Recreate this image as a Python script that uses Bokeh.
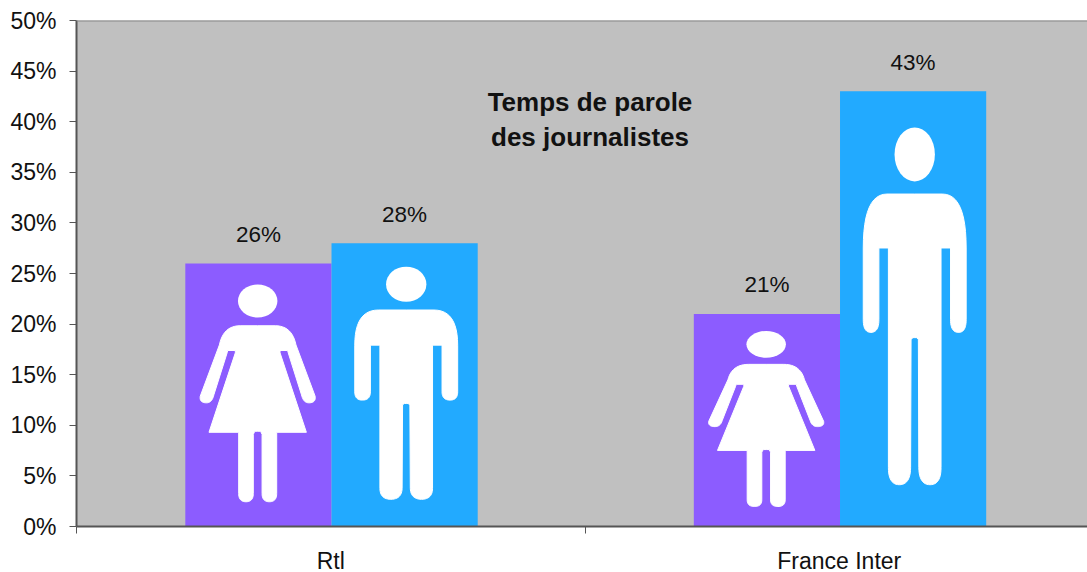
from bokeh.embed import file_html
from bokeh.resources import INLINE
from bokeh.plotting import figure
from bokeh.models import Range1d, FixedTicker, PrintfTickFormatter, Span, ColumnDataSource, Label
from bokeh.core.properties import value
import numpy as np

categories = ["Rtl", "France Inter"]
femmes = [26, 21]
hommes = [28, 43]
titre = ["Temps de parole", "des journalistes"]
y_ticks = [0, 5, 10, 15, 20, 25, 30, 35, 40, 45, 50]

FONT = "Liberation Sans"
VIOLET = "#8C5CFF"
BLEU = "#22AAFF"
FOND = "#C0C0C0"
AXE = "#555555"

# silhouettes: right half, (offset from axis / bar width, height / bar height, corner roundness)
W_HALF = [(0, .763, 0), (.12, .763, 0), (.235, .763, 1), (.262, .69, 0),
          (.393, .495, 0), (.40, .470, 1), (.35, .470, 0), (.312, .470, 1), (.30, .50, 0),
          (.209, .66, 0), (.205, .669, 0), (.153, .669, 0), (.153, .66, 0),
          (.333, .358, 0), (.13, .358, 0), (.13, .125, 0), (.13, .094, 1), (.08, .094, 0),
          (.03, .094, 1), (.03, .125, 0), (.03, .35, 0), (.02, .362, 0), (0, .362, 0)]
M_HALF = [(0, .764, 0), (.19, .764, 0), (.352, .764, 1), (.352, .64, 0), (.352, .475, 0),
          (.352, .446, 1), (.30, .446, 0), (.245, .446, 1), (.245, .475, 0), (.245, .64, 0),
          (.18, .64, 0), (.18, .135, 0), (.18, .096, 1), (.105, .096, 0), (.03, .096, 1),
          (.028, .135, 0), (.025, .43, 0), (.012, .434, 0), (0, .434, 0)]
W_AXIS, W_HEAD = .495, (.495, .857, .135, .063)
M_AXIS, M_HEAD = .511, (.511, .855, .138, .062)


def arrondi(half):
    """Replace each corner that has a roundness by a quadratic curve."""
    pts = []
    for i, (x, y, r) in enumerate(half):
        if r == 0:
            pts.append((x, y))
            continue
        px, py = half[i - 1][:2]
        nx, ny = half[i + 1][:2]
        ax, ay = x + (px - x) * r, y + (py - y) * r
        bx, by = x + (nx - x) * r, y + (ny - y) * r
        for t in np.linspace(0, 1, 13):
            pts.append(((1 - t) ** 2 * ax + 2 * t * (1 - t) * x + t ** 2 * bx,
                        (1 - t) ** 2 * ay + 2 * t * (1 - t) * y + t ** 2 * by))
    return np.array(pts)


def silhouette(half, axis, x0, width, height):
    h = arrondi(half)
    right = axis + h[:, 0]
    left = axis - h[::-1, 0]
    xs = np.concatenate([right, left]) * width + x0
    ys = np.concatenate([h[:, 1], h[::-1, 1]]) * height
    return xs, ys


def head(spec, x0, width, height):
    cx, cy, rx, ry = spec
    return cx * width + x0, cy * height, 2 * rx * width, 2 * ry * height


p = figure(width=1087, height=576, output_backend="svg", toolbar_location=None,
           x_range=Range1d(0, 1.9882), y_range=Range1d(0, 50),
           min_border_left=76, min_border_right=0, min_border_top=20, min_border_bottom=50,
           background_fill_color=FOND, border_fill_color="white",
           outline_line_color=None, margin=(0, 0, -4, 0))
p.grid.visible = False

bw = 0.2875
centre = 0.5015
x_f = [i + centre - bw for i in range(2)]
x_h = [i + centre for i in range(2)]
p.quad(left=x_f, right=[x + bw for x in x_f], bottom=0, top=femmes,
       fill_color=VIOLET, line_color=None)
p.quad(left=x_h, right=[x + bw for x in x_h], bottom=0, top=hommes,
       fill_color=BLEU, line_color=None)

for x0s, vals, half, axis, hd in [(x_f, femmes, W_HALF, W_AXIS, W_HEAD),
                                  (x_h, hommes, M_HALF, M_AXIS, M_HEAD)]:
    for x0, v in zip(x0s, vals):
        xs, ys = silhouette(half, axis, x0, bw, v)
        p.patch(xs, ys, fill_color="white", line_color="white", line_width=1, line_join="round")
        cx, cy, w, h = head(hd, x0, bw, v)
        p.ellipse(x=[cx], y=[cy], width=[w], height=[h], fill_color="white", line_color=None)

labels = ColumnDataSource(dict(
    x=[x + bw / 2 for x in x_f] + [x + bw / 2 for x in x_h],
    y=femmes + hommes,
    t=[f"{v}%" for v in femmes + hommes]))
p.text(x="x", y="y", text="t", source=labels, text_font=value(FONT), text_font_size="22.5px",
       text_color="#111111", text_align="center", text_baseline="middle", y_offset=-29)

for txt, y in zip(titre, [41.9, 38.5]):
    p.add_layout(Label(x=1.0098, y=y, text=txt, text_font=FONT, text_font_size="26px",
                       text_font_style="bold", text_color="#111111",
                       text_align="center", text_baseline="middle"))

p.add_layout(Span(location=50, dimension="width", line_color="#888888", line_width=2))

ya = p.yaxis[0]
ya.ticker = FixedTicker(ticks=y_ticks)
ya.formatter = PrintfTickFormatter(format="%d%%")
ya.major_label_text_font = FONT
ya.major_label_text_font_size = "23px"
ya.major_label_text_color = "#111111"
ya.major_label_standoff = 13
ya.major_tick_out = 7
ya.major_tick_in = 0
ya.minor_tick_out = 0
ya.minor_tick_in = 0
ya.axis_line_color = AXE
ya.major_tick_line_color = AXE
ya.axis_line_width = 2

xa = p.xaxis[0]
xa.ticker = FixedTicker(ticks=[0.5, 1.5], minor_ticks=[0, 1])
xa.major_label_overrides = {0.5: categories[0], 1.5: categories[1]}
xa.major_label_text_font = FONT
xa.major_label_text_font_size = "23px"
xa.major_label_text_color = "#111111"
xa.major_label_standoff = 14
xa.major_tick_out = 0
xa.major_tick_in = 0
xa.minor_tick_out = 7
xa.minor_tick_in = 0
xa.minor_tick_line_color = AXE
xa.axis_line_color = AXE
xa.axis_line_width = 2

open("out.html", "w").write(file_html(p, INLINE))
